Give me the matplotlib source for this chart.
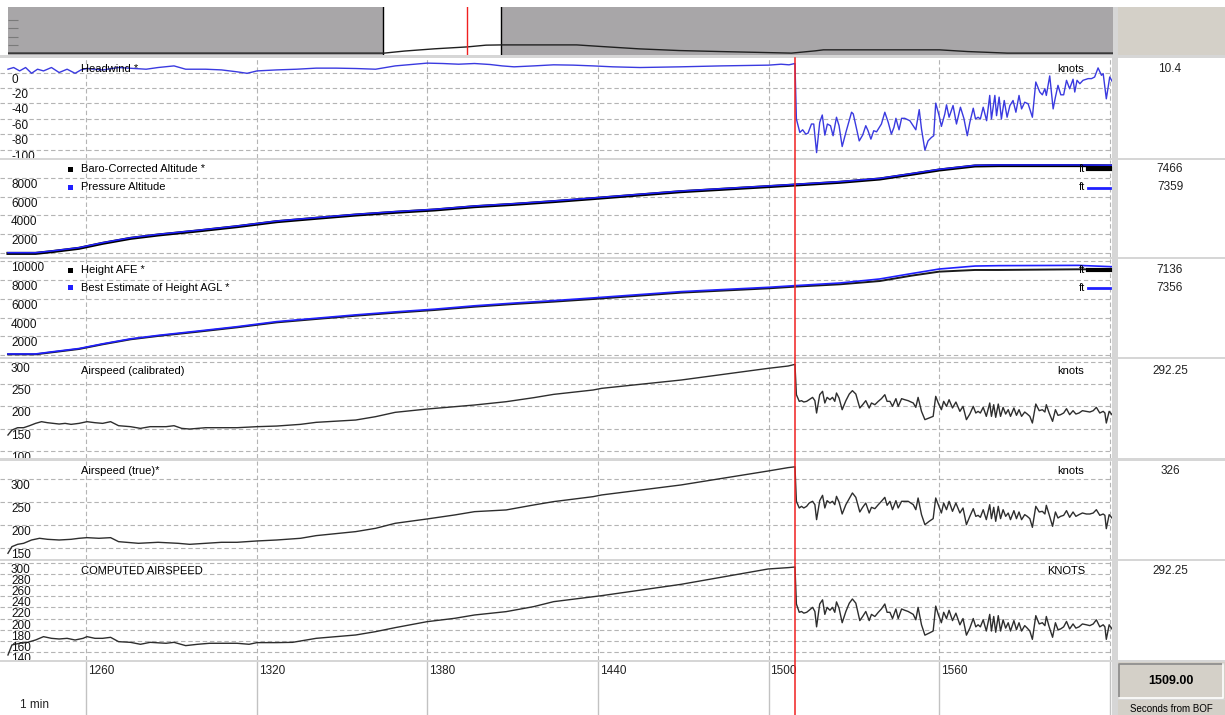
import matplotlib
matplotlib.use("Agg")
import matplotlib.pyplot as plt
import matplotlib.transforms as mtransforms
from matplotlib.patches import Rectangle
from matplotlib.lines import Line2D

plt.rcParams['font.family'] = ['Liberation Sans', 'DejaVu Sans']

# ---------------- data ----------------
x_ticks = [1260, 1320, 1380, 1440, 1500, 1560, 1620]
x_tick_labels = ['1260', '1320', '1380', '1440', '1500', '1560', '']
cursor_t = 1509.3
cursor_text = '1509.00'

# overview (whole file, altitude ft)
ov_t = [-20, 1232, 1300, 1400, 1509, 1571, 1624, 1873, 1949, 2081, 2214, 2350, 2588, 2667, 2694, 3081, 3174, 3306, 3658]
ov_alt = [0, 0, 2500, 5200, 7500, 9600, 9900, 9900, 8110, 5130, 3100, 1900, 0, 2740, 3940, 3940, 1900, 0, 0]
ov_ticks = [10000, 20000, 30000, 40000]

# headwind (knots)
hw_t = [1232.5, 1234.5, 1236.6, 1238.7, 1240.8, 1242.9, 1245.0, 1247.8, 1250.5, 1253.3, 1256.1, 1258.2,
        1260.3, 1265.8, 1271.4, 1277.0, 1281.1, 1285.3, 1290.9, 1295.0, 1302.0, 1307.6, 1313.1, 1316.6,
        1320.1, 1327.0, 1334.0, 1340.9, 1347.9, 1354.9, 1361.8, 1368.7, 1374.3, 1379.9, 1385.4, 1391.0,
        1396.6, 1402.1, 1406.3, 1410.5, 1417.4, 1424.4, 1431.3, 1438.3, 1445.2, 1454.8, 1469.0, 1483.2,
        1500.1, 1504.4, 1507.2, 1509.3,
        1509.8, 1511.0, 1512.0, 1513.1, 1513.9, 1515.1, 1515.9, 1516.9, 1518.0, 1518.9, 1519.8, 1520.7,
        1521.8, 1522.7, 1523.9, 1524.8, 1525.9, 1527.2, 1529.2, 1529.8, 1531.9, 1533.1, 1534.2, 1535.0,
        1536.0, 1537.0, 1538.0, 1539.7, 1540.9, 1542.1, 1543.2, 1544.1, 1544.8, 1545.9, 1546.8, 1547.9,
        1549.7, 1551.8, 1553.0, 1553.8, 1555.0, 1556.1, 1557.3, 1558.1, 1558.8, 1560.0, 1560.8, 1562.0,
        1562.6, 1563.5, 1564.9, 1566.1, 1567.5, 1568.7, 1569.9, 1570.8, 1572.0, 1572.8, 1573.7, 1574.5,
        1575.5, 1576.7, 1577.8, 1578.4, 1579.6, 1580.2, 1581.1, 1581.9, 1582.9, 1583.9, 1584.9, 1586.0,
        1587.0, 1588.1, 1589.0, 1590.1, 1591.3, 1592.8, 1594.0, 1595.4, 1596.3, 1597.2, 1597.7, 1598.9,
        1600.1, 1600.9, 1601.8, 1602.8, 1603.8, 1604.8, 1605.9, 1607.1, 1607.7, 1608.5, 1609.5, 1610.6,
        1612.4, 1613.6, 1614.7, 1615.9, 1617.1, 1617.7, 1618.8, 1620.0, 1621.0]
hw_kt = [4.3, 6.5, 2.1, 6.5, -1.0, 4.3, 2.1, 6.5, 0.0, 4.3, -1.0, 3.4,
         5.2, 3.4, 6.5, 5.2, 4.3, 6.5, 8.6, 4.3, 4.3, 3.4, 0.9, -1.0,
         2.1, 3.4, 4.3, 5.7, 5.7, 5.2, 4.3, 8.6, 10.4, 12.2, 11.7, 10.8,
         11.7, 10.4, 8.6, 7.4, 8.6, 10.0, 9.6, 8.6, 7.4, 6.5, 7.4, 8.6,
         9.6, 10.8, 10.0, 11.7,
         -60.3, -77.7, -74.3, -79.9, -78.6, -66.8, -66.8, -103.9, -64.7, -55.1, -81.2, -66.8,
         -69.0, -82.0, -58.0, -69.0, -96.0, -77.7, -51.5, -53.7, -88.7, -81.2, -69.0, -75.5,
         -86.4, -75.5, -76.9, -66.8, -51.5, -64.7, -79.9, -71.2, -59.4, -74.3, -59.4, -59.4,
         -62.5, -74.3, -48.1, -73.3, -100.8, -88.7, -84.2, -82.0, -39.7, -56.0, -69.9, -53.7,
         -41.9, -58.0, -42.8, -66.8, -45.0, -59.4, -82.0, -64.7, -46.3, -60.3, -58.0, -60.3,
         -45.0, -62.5, -29.7, -60.3, -29.7, -56.0, -31.9, -60.3, -36.3, -58.0, -42.8, -36.3,
         -51.5, -29.7, -47.2, -38.5, -40.6, -58.0, -12.3, -25.3, -28.9, -21.0, -29.7, -4.4,
         -47.2, -31.9, -16.6, -28.9, -28.9, -10.1, -21.0, -8.7, -25.3, -10.1, -14.5, -10.1,
         -7.9, -7.9, -5.8, 6.0, -3.6, -1.4, -34.1, -5.8, -12.3]
hw_ticks = [0, -20, -40, -60, -80, -100]

# altitudes (ft)
alt_t = [1232.5, 1242.2, 1247.8, 1257.5, 1265.8, 1275.6, 1285.3, 1299.2, 1313.1, 1327.0, 1340.9, 1354.8,
         1368.7, 1382.6, 1396.6, 1410.5, 1424.4, 1438.3, 1469.2, 1499.9, 1509.3, 1525.1, 1539.1, 1550.2,
         1560.0, 1572.6, 1581.0, 1608.9, 1620.8]
baro_ft = [-40, -40, 140, 500, 1030, 1560, 1920, 2350, 2810, 3340, 3700, 4050,
           4340, 4590, 4940, 5190, 5480, 5800, 6540, 7080, 7250, 7540, 7890, 8390,
           8850, 9280, 9320, 9320, 9290]
press_ft = [30, 30, 210, 570, 1100, 1630, 1990, 2420, 2880, 3410, 3770, 4120,
            4410, 4660, 5010, 5260, 5550, 5870, 6610, 7150, 7320, 7610, 7960, 8460,
            8920, 9350, 9390, 9390, 9360]
afe_ft = [70, 70, 280, 640, 1140, 1670, 2030, 2480, 2950, 3480, 3840, 4190,
          4510, 4800, 5150, 5440, 5690, 5970, 6650, 7110, 7290, 7540, 7890, 8460,
          8890, 9070, 9070, 9140, 9140]
agl_ft = [110, 110, 330, 690, 1190, 1720, 2090, 2550, 3020, 3560, 3920, 4280,
          4600, 4890, 5250, 5540, 5800, 6090, 6760, 7220, 7400, 7680, 8110, 8680,
          9170, 9490, 9530, 9560, 9420]
alt_ticks = [10000, 8000, 6000, 4000, 2000, 0]

# airspeeds (knots) before the cursor
cas_pre_t = [1232.5, 1233.9, 1235.9, 1238.0, 1240.1, 1242.2, 1244.3, 1246.4, 1248.5, 1250.5, 1252.6, 1254.7,
             1257.5, 1260.3, 1263.1, 1265.8, 1268.6, 1271.4, 1275.6, 1279.1, 1282.5, 1288.1, 1290.9, 1293.6,
             1296.4, 1302.0, 1307.6, 1313.1, 1320.1, 1327.0, 1335.4, 1340.9, 1354.8, 1361.8, 1368.7, 1379.9,
             1389.6, 1396.6, 1407.7, 1417.4, 1424.4, 1438.3, 1441.3, 1469.2, 1499.9, 1506.9, 1509.3]
cas_pre_kt = [135.8, 147.0, 152.2, 152.2, 156.7, 161.9, 165.7, 163.4, 161.9, 160.4, 161.9, 159.7,
              161.9, 165.7, 163.4, 161.9, 165.7, 156.7, 154.5, 150.7, 154.5, 154.5, 156.7, 150.7,
              149.2, 152.2, 152.2, 152.2, 154.5, 155.9, 159.7, 164.2, 169.4, 176.9, 186.6, 194.0,
              199.2, 203.0, 210.4, 219.4, 226.8, 236.6, 240.3, 258.9, 285.1, 290.3, 294.0]
tas_pre_t = [1232.5, 1233.9, 1235.9, 1238.0, 1240.8, 1243.6, 1246.4, 1250.5, 1254.7, 1257.5, 1260.3, 1264.5,
             1268.6, 1271.4, 1278.4, 1285.3, 1292.3, 1296.4, 1302.0, 1307.6, 1313.1, 1320.1, 1327.0, 1335.4,
             1340.9, 1354.8, 1361.8, 1368.7, 1379.9, 1389.6, 1396.6, 1407.7, 1417.4, 1424.4, 1438.3, 1441.3,
             1469.2, 1499.9, 1506.9, 1509.3]
tas_pre_kt = [138.5, 153.0, 158.0, 160.2, 167.4, 171.1, 168.9, 167.4, 168.9, 171.1, 172.5, 171.1,
              172.5, 163.8, 160.2, 162.4, 160.2, 158.0, 160.2, 162.4, 162.4, 165.3, 167.4, 171.1,
              176.9, 185.6, 192.8, 203.7, 213.1, 221.8, 229.0, 232.7, 243.5, 250.8, 261.6, 265.3,
              287.0, 317.4, 324.7, 326.5]
cmp_pre_t = [1232.5, 1233.9, 1236.6, 1239.4, 1242.2, 1245.0, 1247.8, 1250.5, 1253.3, 1256.1, 1258.9, 1260.3,
             1263.1, 1265.8, 1268.6, 1271.4, 1275.6, 1279.1, 1282.5, 1288.1, 1290.9, 1295.0, 1299.2, 1303.4,
             1307.6, 1313.1, 1317.3, 1320.1, 1327.0, 1332.6, 1340.9, 1347.9, 1354.8, 1361.8, 1368.7, 1379.9,
             1389.6, 1396.6, 1407.7, 1417.4, 1424.4, 1438.3, 1441.3, 1469.2, 1499.9, 1506.9, 1509.3]
cmp_pre_kt = [134.6, 152.6, 155.6, 157.3, 161.5, 167.5, 164.5, 163.3, 164.5, 161.5, 164.5, 167.5,
              164.5, 164.5, 166.3, 158.5, 157.3, 153.8, 157.3, 155.6, 157.3, 151.4, 153.8, 155.6,
              155.6, 155.6, 153.8, 156.8, 156.8, 157.3, 164.5, 167.5, 170.5, 176.5, 183.7, 194.4,
              200.4, 206.4, 212.4, 221.4, 230.3, 239.3, 241.1, 261.4, 289.0, 291.4, 292.5]

# airspeeds after the cursor (turbulent part)
tail_t = [1509.8, 1510.8, 1511.6, 1512.4, 1513.4, 1514.3, 1515.5, 1516.3, 1516.9, 1518.0, 1519.0, 1519.8,
          1520.6, 1521.6, 1522.5, 1523.3, 1523.9, 1524.8, 1525.9, 1527.2, 1528.4, 1529.5, 1530.7, 1532.1,
          1533.1, 1534.2, 1535.4, 1536.2, 1537.4, 1538.6, 1539.7, 1540.9, 1541.7, 1542.7, 1543.6, 1544.8,
          1545.6, 1546.8, 1547.9, 1549.1, 1550.9, 1551.8, 1552.6, 1553.8, 1555.0, 1556.5, 1557.9, 1558.8,
          1559.7, 1560.8, 1561.6, 1562.6, 1563.5, 1564.7, 1565.9, 1567.3, 1568.4, 1569.6, 1570.8, 1572.0,
          1572.9, 1573.7, 1574.5, 1575.5, 1576.6, 1577.8, 1578.4, 1579.2, 1579.9, 1580.8, 1581.6, 1582.5,
          1583.4, 1584.3, 1585.1, 1586.3, 1587.2, 1588.1, 1589.0, 1590.1, 1591.0, 1591.9, 1592.8, 1594.0,
          1595.2, 1596.3, 1597.2, 1597.7, 1598.7, 1599.9, 1600.9, 1601.8, 1602.7, 1603.8, 1604.8, 1605.9,
          1607.1, 1608.1, 1609.2, 1610.4, 1611.8, 1613.0, 1614.2, 1615.3, 1616.5, 1617.7, 1618.3, 1618.8,
          1619.8, 1621.0]
cas_tail_kt = [226.1, 211.2, 212.7, 209.7, 211.2, 214.9, 220.1, 212.7, 185.1, 226.1, 233.6, 207.5,
               220.1, 214.9, 220.1, 211.2, 229.9, 218.7, 192.5, 212.7, 227.6, 235.1, 227.6, 196.3,
               203.7, 212.7, 196.3, 207.5, 203.7, 211.2, 217.2, 226.1, 211.2, 211.2, 200.0, 217.2,
               200.0, 217.2, 214.9, 212.7, 207.5, 197.8, 220.1, 188.8, 170.2, 173.9, 177.6, 222.4,
               207.5, 192.5, 211.2, 200.0, 214.9, 196.3, 209.7, 188.8, 200.0, 170.2, 182.8, 200.0,
               185.1, 188.8, 185.1, 197.8, 177.6, 207.5, 177.6, 203.7, 175.4, 205.2, 177.6, 197.8,
               182.8, 192.5, 177.6, 196.3, 179.9, 192.5, 177.6, 187.3, 182.8, 177.6, 162.7, 205.2,
               190.3, 192.5, 187.3, 203.7, 185.1, 166.4, 192.5, 179.9, 181.3, 185.1, 194.8, 181.3,
               190.3, 182.8, 185.1, 190.3, 188.8, 187.3, 190.3, 197.8, 185.1, 188.8, 185.1, 162.7,
               188.8, 179.9]
tas_tail_kt = [251.5, 237.0, 240.6, 237.0, 240.6, 247.8, 251.5, 244.2, 211.6, 252.9, 264.5, 237.0,
               252.9, 247.8, 251.5, 244.2, 262.3, 250.0, 223.9, 244.2, 257.2, 269.6, 260.1, 228.3,
               238.4, 247.8, 226.1, 238.4, 235.5, 244.2, 251.5, 260.1, 242.8, 251.5, 233.3, 252.9,
               237.0, 251.5, 251.5, 251.5, 244.2, 233.3, 258.7, 222.5, 200.7, 208.0, 213.8, 258.7,
               244.2, 226.1, 247.8, 233.3, 251.5, 229.7, 247.8, 226.1, 237.0, 200.7, 218.8, 235.5,
               218.8, 221.0, 216.7, 233.3, 211.6, 244.2, 213.8, 238.4, 208.0, 240.6, 213.8, 233.3,
               218.8, 226.1, 211.6, 231.2, 213.8, 228.3, 211.6, 222.5, 218.8, 213.8, 194.9, 240.6,
               228.3, 229.7, 223.9, 242.8, 222.5, 197.1, 228.3, 215.2, 218.8, 221.0, 231.2, 216.7,
               228.3, 218.8, 222.5, 226.1, 223.9, 223.9, 226.1, 233.3, 221.0, 223.9, 221.0, 192.0,
               222.5, 213.8]
cmp_tail_kt = cas_tail_kt  # computed airspeed shows the same trace as calibrated

cas_ticks = [300, 250, 200, 150, 100]
tas_ticks = [300, 250, 200, 150]
cmp_ticks = [300, 280, 260, 240, 220, 200, 180, 160, 140]

readouts = ['10.4', '7466', '7359', '7136', '7356', '292.25', '326', '292.25']

# ---------------- figure ----------------
W, H = 1225, 715
fig = plt.figure(figsize=(W / 100, H / 100), dpi=100, facecolor='#d6d6d6')
PX = mtransforms.Affine2D().scale(1 / W, -1 / H).translate(0, 1) + fig.transFigure

XLIM = (1229.7, 1620.8)
GRID = '#b4b4b4'
FS = 8
TFS = 8.5
BLUE = '#2020ff'
HWBLUE = '#3a3ae0'
SPEED = '#2e2e2e'
RED = '#f02020'
MIN_LABEL_PX = 4.0   # a tick label needs this much room above the panel bottom to be drawn


def prect(x, y, w, h, fc, **kw):
    fig.patches.append(Rectangle((x, y), w, h, transform=PX, facecolor=fc,
                                 edgecolor=kw.pop('ec', 'none'), lw=kw.pop('lw', 0), **kw))


def ptext(x, y, s, **kw):
    kw.setdefault('fontsize', FS)
    kw.setdefault('va', 'center')
    fig.text(x, y, s, transform=PX, **kw)


# background pieces
prect(0, 0, W, 7.3, 'white')
prect(0, 7.3, 8, 47.5, 'white')
prect(1118, 7.3, 107, 47.5, '#d4d0c8')

rows = [(57.5, 157.7), (159.7, 256.7), (259.3, 356.5), (359.0, 458.3), (461.0, 559.0), (561.0, 660.0)]
for top, bot in rows:
    prect(1118, top, 107, bot - top, 'white')


def panel(top, bot, ylim, ticks):
    ax = fig.add_axes([0, 1 - bot / H, 1112 / W, (bot - top) / H])
    ax.set_facecolor('white')
    ax.set_xlim(*XLIM)
    ax.set_ylim(*ylim)
    for s in ax.spines.values():
        s.set_visible(False)
    shown = [v for v in ticks if ylim[0] <= v <= ylim[1]]
    ax.set_xticks(x_ticks)
    ax.set_yticks(shown)
    ax.tick_params(length=0, labelleft=False, labelbottom=False)
    ax.set_axisbelow(True)
    ax.grid(True, color=GRID, lw=0.8, ls=(0, (4, 2.5)))
    tr = mtransforms.blended_transform_factory(ax.transAxes, ax.transData) + \
        mtransforms.ScaledTranslation(0, -1 / 100, fig.dpi_scale_trans)
    px_per_unit = (bot - top) / (ylim[1] - ylim[0])
    for v in shown:
        if (v - ylim[0]) * px_per_unit < MIN_LABEL_PX:
            continue
        ax.text(11 / 1112, v, f'{v}', transform=tr, va='top', ha='left',
                fontsize=TFS, clip_on=True, color='#111111')
    return ax


# overview strip
ov = fig.add_axes([8 / W, 1 - 54.8 / H, (1113 - 8) / W, (54.8 - 7.3) / H])
ov.set_facecolor('#a8a6a8')
ov.set_xlim(-20, 3658)
ov.set_ylim(-2028, 55236)
for s in ov.spines.values():
    s.set_visible(False)
ov.axvspan(XLIM[0], XLIM[1], facecolor='white', zorder=1)
ov.axvline(XLIM[0], color='black', lw=1.0, zorder=2)
ov.axvline(XLIM[1], color='black', lw=1.0, zorder=2)
ov.plot(ov_t, ov_alt, color='#202020', lw=1.0, zorder=3)
ov.axvline(cursor_t, color=RED, lw=1.0, zorder=4)
ov.set_xticks([])
ov.set_yticks(ov_ticks)
ov.tick_params(axis='y', direction='in', length=7, width=0.8, color='#7a7a7a', labelleft=False)

# headwind
ax1 = panel(*rows[0], (-110.5, 19.5), hw_ticks)
ax1.plot(hw_t, hw_kt, color=HWBLUE, lw=1.0)

# altitudes
ax2 = panel(*rows[1], (-395, 9950), alt_ticks)
ax2.plot(alt_t, baro_ft, color='black', lw=2.2)
ax2.plot(alt_t, press_ft, color=BLUE, lw=1.1)

ax3 = panel(*rows[2], (-160, 10208), alt_ticks)
ax3.plot(alt_t, afe_ft, color='#1a1a1a', lw=1.4)
ax3.plot(alt_t, agl_ft, color=BLUE, lw=1.2)

# airspeeds
ax4 = panel(*rows[3], (83.7, 306), cas_ticks)
ax4.plot(cas_pre_t + tail_t, cas_pre_kt + cas_tail_kt, color=SPEED, lw=1.0)

ax5 = panel(*rows[4], (126.1, 339.1), tas_ticks)
ax5.plot(tas_pre_t + tail_t, tas_pre_kt + tas_tail_kt, color=SPEED, lw=1.0)

ax6 = panel(*rows[5], (125.6, 303.3), cmp_ticks)
ax6.plot(cmp_pre_t + tail_t, cmp_pre_kt + cmp_tail_kt, color=SPEED, lw=1.0)

# time axis strip
xa = fig.add_axes([0, 0, 1112 / W, (715 - 662.3) / H])
xa.set_xlim(*XLIM)
xa.set_ylim(0, 1)
xa.axis('off')
xa.add_patch(Rectangle((0, 0), 1, 1, transform=xa.transAxes, facecolor='white', zorder=0))
lab_tr = mtransforms.blended_transform_factory(xa.transData, PX) + \
    mtransforms.ScaledTranslation(2 / 100, 0, fig.dpi_scale_trans)
for t, lab in zip(x_ticks, x_tick_labels):
    xa.axvline(t, color='#c2c2c2', lw=1.0, zorder=1)
    xa.text(t, 670.5, lab, transform=lab_tr, va='center', ha='left', fontsize=TFS, color='#222222')
ptext(20.5, 705.5, '1 min', ha='left', color='#222222', fontsize=TFS)

# cursor line through all panels
fig.add_artist(Line2D([cursor_t, cursor_t], [57.5, 715],
                      transform=mtransforms.blended_transform_factory(ax1.transData, PX),
                      color=RED, lw=1.1, zorder=20))

# legends / labels
ptext(81, 68.5, 'Headwind *', ha='left')
ptext(1084, 68.5, 'knots', ha='right')
legend_rows = [(169, 'Baro-Corrected Altitude *', 'black', 3.0),
               (187.5, 'Pressure Altitude', BLUE, 2.0),
               (270, 'Height AFE *', 'black', 3.0),
               (287.7, 'Best Estimate of Height AGL *', BLUE, 2.0)]
for y, name, col, lw in legend_rows:
    prect(68, y - 2.5, 5, 5, col)
    ptext(81, y, name, ha='left')
    ptext(1085, y, 'ft', ha='right')
    fig.add_artist(Line2D([1088, 1110], [y, y], transform=PX, color=col, lw=lw))
ptext(81, 370.5, 'Airspeed (calibrated)', ha='left')
ptext(1084, 370.5, 'knots', ha='right')
ptext(81, 471, 'Airspeed (true)*', ha='left')
ptext(1084, 471.5, 'knots', ha='right')
ptext(81, 571, 'COMPUTED AIRSPEED', ha='left')
ptext(1085, 571, 'KNOTS', ha='right')

# readout column
ro_y = [68.5, 169, 187.5, 270, 287.7, 370.5, 471, 571.5]
for y, s in zip(ro_y, readouts):
    ptext(1170, y, s, ha='center', color='#222222', fontsize=TFS)

# cursor time box
prect(1118, 662.3, 107, 37, '#d4d0c8')
fig.add_artist(Line2D([1119, 1119, 1223], [698, 663.5, 663.5], transform=PX, color='#8a8a8a', lw=1.2))
fig.add_artist(Line2D([1119, 1223, 1223], [698, 698, 663.5], transform=PX, color='white', lw=1.2))
ptext(1171, 681, cursor_text, ha='center', fontsize=9, fontweight='bold')
prect(1118, 700, 107, 15, '#d4d0c8')
ptext(1171, 708.5, 'Seconds from BOF', ha='center', fontsize=7)

fig.savefig('out.png', dpi=100, facecolor=fig.get_facecolor())
